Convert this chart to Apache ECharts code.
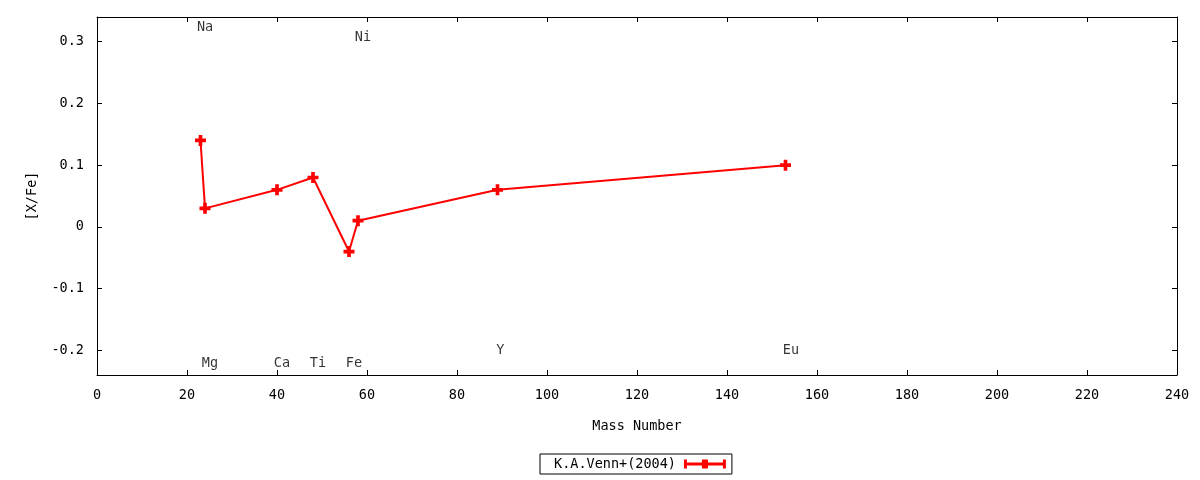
<!DOCTYPE html>
<html lang="en">
<head>
    <meta charset="UTF-8">
    <title>[X/Fe] vs Mass Number</title>
    <script src="https://cdn.jsdelivr.net/npm/echarts@6.0.0/dist/echarts.min.js"></script>
    <style>
        html, body { margin: 0; padding: 0; background: #fff; }
        #container { width: 1200px; height: 480px; }
    </style>
</head>
<body>
<div id="container"></div>
<script>
    // data
    var massNumber = [23, 24, 40, 48, 56, 58, 89, 153];
    var xFe = [0.14, 0.03, 0.06, 0.08, -0.04, 0.01, 0.06, 0.10];

    // element labels placed on the plot
    var labelNames = ['Na', 'Ni', 'Mg', 'Ca', 'Ti', 'Fe', 'Y', 'Eu'];
    var labelX = [22.2, 57.3, 23.3, 39.3, 47.3, 55.3, 88.7, 152.4];
    var labelY = [0.323, 0.306, -0.222, -0.222, -0.222, -0.222, -0.2, -0.2];

    var yTicks = [-0.2, -0.1, 0, 0.1, 0.2, 0.3];

    var font = 'DejaVu Sans Mono';
    var fs = 13.5;
    var plusPath = 'path://M4,0H8V4H12V8H8V12H4V8H0V4H4Z';

    var chart = echarts.init(document.getElementById('container'));

    var lineData = [];
    for (var i = 0; i < massNumber.length; i++) {
        lineData.push([massNumber[i], xFe[i]]);
    }
    var labelData = [];
    for (var j = 0; j < labelNames.length; j++) {
        labelData.push({name: labelNames[j], value: [labelX[j], labelY[j]]});
    }

    var axisLine = {show: true, onZero: false, lineStyle: {color: '#000', width: 1}};
    var tick = {show: true, inside: true, length: 5, lineStyle: {color: '#000'}};

    var option = {
        animation: false,
        textStyle: {fontFamily: font},
        grid: {left: 97, right: 23, top: 17, bottom: 105, containLabel: false},
        legend: {
            bottom: 6,
            left: 540,
            data: [{name: 'K.A.Venn+(2004)'}],
            align: 'right',
            icon: 'path://M0,0H3V9H0ZM3,3H39V6H3ZM39,0H42V9H39ZM18,0H24V3H27V6H24V9H18V6H15V3H18Z',
            itemWidth: 42,
            itemHeight: 9,
            borderColor: '#000',
            borderWidth: 1,
            borderRadius: 0,
            padding: [3, 6, 3, 14],
            textStyle: {fontFamily: font, fontSize: fs, color: '#000', padding: [0, 3, 0, 0]}
        },
        xAxis: [{
            type: 'value',
            min: 0,
            max: 240,
            interval: 20,
            name: 'Mass Number',
            nameLocation: 'middle',
            nameGap: 44,
            nameTextStyle: {fontFamily: font, fontSize: fs, color: '#000'},
            axisLine: axisLine,
            axisTick: tick,
            axisLabel: {fontFamily: font, fontSize: fs, color: '#000', margin: 13},
            splitLine: {show: false}
        }, {
            type: 'value',
            position: 'top',
            min: 0,
            max: 240,
            interval: 20,
            axisLine: axisLine,
            axisTick: tick,
            axisLabel: {show: false},
            splitLine: {show: false}
        }],
        yAxis: [{
            type: 'value',
            min: -0.24,
            max: 0.34,
            name: '[X/Fe]',
            nameLocation: 'middle',
            nameGap: 58,
            nameRotate: 90,
            nameTextStyle: {fontFamily: font, fontSize: fs, color: '#000'},
            axisLine: axisLine,
            axisTick: {show: true, inside: true, length: 5, customValues: yTicks, lineStyle: {color: '#000'}},
            axisLabel: {fontFamily: font, fontSize: fs, color: '#000', margin: 13, customValues: yTicks},
            splitLine: {show: false}
        }, {
            type: 'value',
            position: 'right',
            min: -0.24,
            max: 0.34,
            axisLine: axisLine,
            axisTick: {show: true, inside: true, length: 5, customValues: yTicks, lineStyle: {color: '#000'}},
            axisLabel: {show: false, customValues: yTicks},
            splitLine: {show: false}
        }],
        series: [{
            name: 'K.A.Venn+(2004)',
            type: 'line',
            data: lineData,
            symbol: plusPath,
            symbolSize: 11,
            showAllSymbol: true,
            itemStyle: {color: '#ff0000'},
            lineStyle: {color: '#ff0000', width: 2}
        }, {
            name: 'labels',
            type: 'scatter',
            data: labelData,
            symbolSize: 0,
            silent: true,
            label: {
                show: true,
                position: 'right',
                distance: 0,
                formatter: '{b}',
                fontFamily: font,
                fontSize: fs,
                color: '#000'
            }
        }]
    };

    chart.setOption(option);
</script>
</body>
</html>
